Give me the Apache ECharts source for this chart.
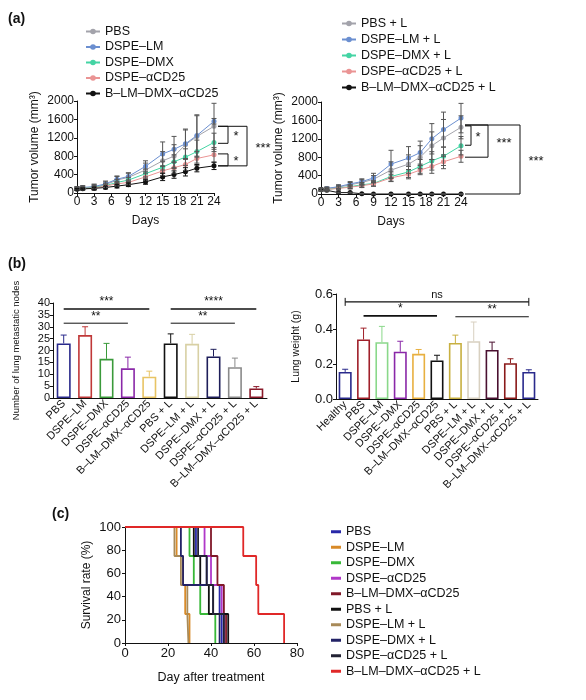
<!DOCTYPE html>
<html><head><meta charset="utf-8">
<script src="https://cdn.jsdelivr.net/npm/echarts@6/dist/echarts.min.js"></script>
<style>html,body{margin:0;padding:0;background:#fff}#c{width:586px;height:700px}</style>
</head><body><div id="c"></div>
<script>
// ---------- DATA ----------
const days = [0,1,3,5,7,9,12,15,17,19,21,24];
const groupsA = ['PBS','DSPE–LM','DSPE–DMX','DSPE–αCD25','B–LM–DMX–αCD25'];
const volA = [
 [100,110,130,180,280,340,500,700,800,1050,1230,1450],
 [100,120,140,200,300,360,580,850,950,1070,1250,1560],
 [90,100,120,160,230,280,420,560,680,780,900,1100],
 [90,100,110,150,200,230,350,480,550,620,750,830],
 [80,90,100,120,150,180,240,350,400,460,540,590]];
const errA = [
 [40,40,60,60,80,90,150,200,250,320,450,500],
 [40,40,50,60,70,80,120,260,280,320,450,60],
 [30,30,40,40,60,60,100,130,150,180,250,200],
 [30,30,40,40,50,50,80,100,120,130,150,160],
 [20,20,30,30,40,40,50,80,80,90,80,80]];
const groupsAL = ['PBS + L','DSPE–LM + L','DSPE–DMX + L','DSPE–αCD25 + L','B–LM–DMX–αCD25 + L'];
const volAL = [
 [100,120,150,200,250,320,520,650,800,1050,1220,1450],
 [100,120,160,220,270,350,650,780,900,1200,1400,1650],
 [90,100,130,160,200,230,380,480,600,720,820,1050],
 [90,100,120,150,180,220,350,430,520,600,700,820],
 [100,80,30,30,5,0,0,0,0,0,0,0]];
const errAL = [
 [30,30,40,50,60,80,180,200,250,300,400,250],
 [30,30,40,50,60,100,300,250,250,330,380,320],
 [30,30,40,40,50,60,100,120,150,200,200,200],
 [30,30,30,40,40,50,80,100,100,150,150,130],
 [20,20,10,10,5,0,0,0,0,0,0,0]];
const colorsA = ['#a3a3ab','#6b8fd0','#44d4a4','#ea9494','#111111'];

const catB1 = ['PBS','DSPE–LM','DSPE–DMX','DSPE–αCD25','B–LM–DMX–αCD25','PBS + L','DSPE–LM + L','DSPE–DMX + L','DSPE–αCD25 + L','B–LM–DMX–αCD25 + L'];
const nodes = [23,26.5,16.5,12.5,9,23,22.8,17.5,13,4];
const nodesErr = [3.5,3.5,6.5,4.7,2.3,4,4,3,3.8,0.8];
const colB1 = ['#2a2a8c','#c03838','#3a9a3a','#8a28a8','#e8c464','#111111','#d8d0a4','#1e1e5a','#8a8a8a','#8a1a2a'];

const catB2 = ['Healthy','PBS','DSPE–LM','DSPE–DMX','DSPE–αCD25','B–LM–DMX–αCD25','PBS + L','DSPE–LM + L','DSPE–DMX + L','DSPE–αCD25 + L','B–LM–DMX–αCD25 + L'];
const lungW = [0.155,0.34,0.325,0.27,0.258,0.22,0.32,0.33,0.28,0.205,0.155];
const lungErr = [0.015,0.065,0.09,0.06,0.025,0.03,0.045,0.11,0.045,0.025,0.012];
const colB2 = ['#2a2a8c','#a0202a','#8ad88a','#8a28a8','#e8b040','#111111','#c8b040','#d8d0c0','#4a1030','#8a1a1a','#2a2a8c'];

const groupsC = ['PBS','DSPE–LM','DSPE–DMX','DSPE–αCD25','B–LM–DMX–αCD25','PBS + L','DSPE–LM + L','DSPE–DMX + L','DSPE–αCD25 + L','B–LM–DMX–αCD25 + L'];
const colC = ['#2828a8','#d88a28','#38b838','#b038c8','#801828','#111111','#a88a58','#222266','#222233','#e02828'];
const survC = [
 [[0,100],[33,75],[38,50],[44,25],[45,0]],
 [[0,100],[24,75],[27,50],[28,25],[30,0]],
 [[0,100],[30,75],[32,50],[35,25],[42,0]],
 [[0,100],[37,75],[40,50],[45,25],[46,0]],
 [[0,100],[40,75],[43,50],[46,25],[47,0]],
 [[0,100],[32,75],[35,50],[39,25],[48,0]],
 [[0,100],[23,75],[26,50],[29,25],[29.5,0]],
 [[0,100],[26,75],[27,50],[41,25],[44,0]],
 [[0,100],[34,75],[38,50],[41,25],[46,0]],
 [[0,100],[55,75],[61,50],[62,25],[74,0]]];

// ---------- CHART ----------
const F = 'Liberation Sans, Arial, sans-serif';
const tick = {color:'#111',fontSize:12,fontFamily:F};
const axL = {lineStyle:{color:'#111',width:1}};
const axT = {show:true,length:3,lineStyle:{color:'#111'}};
const plain = v=>String(v);
function errSeries(xIdx,yIdx,data,color,both,cap){
  return {type:'custom',xAxisIndex:xIdx,yAxisIndex:yIdx,silent:true,z:5,
    renderItem:function(p,api){
      const x=api.value(0),y=api.value(1),e=api.value(2);
      const top=api.coord([x,y+e]),bot=api.coord([x,both?y-e:y]);
      const ch=[{type:'line',shape:{x1:top[0],y1:top[1],x2:bot[0],y2:bot[1]},style:{stroke:color,lineWidth:1}},
        {type:'line',shape:{x1:top[0]-cap,y1:top[1],x2:top[0]+cap,y2:top[1]},style:{stroke:color,lineWidth:1}}];
      if(both) ch.push({type:'line',shape:{x1:bot[0]-cap,y1:bot[1],x2:bot[0]+cap,y2:bot[1]},style:{stroke:color,lineWidth:1}});
      return {type:'group',children:ch};
    },data:data};
}
const series=[], legends=[];
groupsA.forEach((g,i)=>{
  series.push({name:g,type:'line',xAxisIndex:0,yAxisIndex:0,data:days.map((d,j)=>[d,volA[i][j]]),
    symbol:'circle',symbolSize:5,color:colorsA[i],lineStyle:{width:1},z:4});
  series.push(errSeries(0,0,days.map((d,j)=>[d,volA[i][j],errA[i][j]]),colorsA[i]==='#111111'?'#111':'#555',true,2.5));
});
groupsAL.forEach((g,i)=>{
  series.push({name:g,type:'line',xAxisIndex:1,yAxisIndex:1,data:days.map((d,j)=>[d,volAL[i][j]]),
    symbol:'circle',symbolSize:5,color:colorsA[i],lineStyle:{width:1},z:4});
  series.push(errSeries(1,1,days.map((d,j)=>[d,volAL[i][j],errAL[i][j]]),'#555',true,2.5));
});
series.push({type:'bar',xAxisIndex:2,yAxisIndex:2,barWidth:14,z:3,
  data:nodes.map((v,i)=>({value:v,itemStyle:{color:'#fff',borderColor:colB1[i],borderWidth:1.6}}))});
nodes.forEach((v,i)=>series.push(errSeries(2,2,[[i,v,nodesErr[i]]],colB1[i],false,3)));
series.push({type:'bar',xAxisIndex:3,yAxisIndex:3,barWidth:13,z:3,
  data:lungW.map((v,i)=>({value:v,itemStyle:{color:'#fff',borderColor:colB2[i],borderWidth:1.6}}))});
lungW.forEach((v,i)=>series.push(errSeries(3,3,[[i,v,lungErr[i]]],colB2[i],false,3)));
groupsC.forEach((g,i)=>series.push({name:'c'+i,type:'line',step:'end',xAxisIndex:4,yAxisIndex:4,data:survC[i],
  symbol:'none',color:colC[i],lineStyle:{width:1.8},z:3+(i===9?2:0)}));

const legText={fontSize:12.5,fontFamily:F,color:'#111'};
legends.push({orient:'vertical',left:80,top:20,itemWidth:14,itemHeight:7,itemGap:2.5,textStyle:legText,data:groupsA,selectedMode:false});
legends.push({orient:'vertical',left:336,top:12,itemWidth:14,itemHeight:7,itemGap:3,textStyle:legText,data:groupsAL,selectedMode:false});
legends.push({orient:'vertical',left:326,top:520,itemWidth:10,itemHeight:3,itemGap:2,icon:'rect',
  textStyle:Object.assign({},legText,{lineHeight:13.5}),data:groupsC.map((g,i)=>'c'+i),
  formatter:n=>groupsC[+n.slice(1)],selectedMode:false});

const catLabel={rotate:45,fontSize:11,fontFamily:F,color:'#111',interval:0,margin:4};
const option={animation:false,
 grid:[{left:77,top:101,width:137,height:92},{left:321,top:102,width:140,height:92},
   {left:53,top:303,width:214,height:95},{left:336,top:294,width:202,height:105},
   {left:125,top:527,width:172,height:116}],
 legend:legends,
 xAxis:[
  {gridIndex:0,type:'value',min:0,max:24,interval:3,axisLine:axL,axisTick:axT,splitLine:{show:false},axisLabel:Object.assign({margin:3},tick),name:'Days',nameLocation:'middle',nameGap:22,nameTextStyle:tick},
  {gridIndex:1,type:'value',min:0,max:24,interval:3,axisLine:axL,axisTick:axT,splitLine:{show:false},axisLabel:Object.assign({margin:3},tick),name:'Days',nameLocation:'middle',nameGap:22,nameTextStyle:tick},
  {gridIndex:2,type:'category',data:catB1,axisLine:axL,axisTick:{show:false},axisLabel:catLabel},
  {gridIndex:3,type:'category',data:catB2,axisLine:axL,axisTick:{show:false},axisLabel:catLabel},
  {gridIndex:4,type:'value',min:0,max:80,interval:20,axisLine:axL,axisTick:axT,splitLine:{show:false},axisLabel:Object.assign({margin:4},tick,{fontSize:13}),name:'Day after treatment',nameLocation:'middle',nameGap:28,nameTextStyle:Object.assign({},tick,{fontSize:12.5})}],
 yAxis:[
  {gridIndex:0,type:'value',min:0,max:2000,interval:400,axisLine:Object.assign({show:true},axL),axisTick:axT,splitLine:{show:false},axisLabel:Object.assign({margin:3,formatter:plain},tick),name:'Tumor volume (mm³)',nameLocation:'middle',nameGap:36,nameTextStyle:tick},
  {gridIndex:1,type:'value',min:0,max:2000,interval:400,axisLine:Object.assign({show:true},axL),axisTick:axT,splitLine:{show:false},axisLabel:Object.assign({margin:3,formatter:plain},tick),name:'Tumor volume (mm³)',nameLocation:'middle',nameGap:36,nameTextStyle:tick},
  {gridIndex:2,type:'value',min:0,max:40,interval:5,axisLine:Object.assign({show:true},axL),axisTick:axT,splitLine:{show:false},axisLabel:Object.assign({margin:3},tick,{fontSize:11}),name:'Number of lung metastatic nodes',nameLocation:'middle',nameGap:32,nameTextStyle:Object.assign({},tick,{fontSize:9.5})}],
 series:series};
option.yAxis.push(
  {gridIndex:3,type:'value',min:0,max:0.6,interval:0.2,axisLine:Object.assign({show:true},axL),axisTick:axT,splitLine:{show:false},axisLabel:Object.assign({margin:3,formatter:v=>v.toFixed(1)},tick,{fontSize:13}),name:'Lung weight (g)',nameLocation:'middle',nameGap:34,nameTextStyle:Object.assign({},tick,{fontSize:10.5})},
  {gridIndex:4,type:'value',min:0,max:100,interval:20,axisLine:Object.assign({show:true},axL),axisTick:axT,splitLine:{show:false},axisLabel:Object.assign({margin:4},tick,{fontSize:13}),name:'Survival rate (%)',nameLocation:'middle',nameGap:32,nameTextStyle:Object.assign({},tick,{fontSize:12})});
const chart=echarts.init(document.getElementById('c'),null,{renderer:'canvas'});
chart.setOption(option);

// ---------- annotations ----------
const px=(g,x,y)=>chart.convertToPixel({gridIndex:g},[x,y]);
const G=[];
const ln=(x1,y1,x2,y2,w)=>G.push({type:'line',shape:{x1,y1,x2,y2},style:{stroke:'#111',lineWidth:w||1}});
const tx=(x,y,t,s,bold,align)=>G.push({type:'text',x,y,style:{text:t,fontSize:s||12,fontFamily:F,fill:'#111',fontWeight:bold?'bold':'normal',align:align||'center',verticalAlign:'middle'}});
function bracket(g,x0,off,yTop,yBot,label,toff){
  const a=px(g,x0,yTop),b=px(g,x0,yBot),X=a[0]+off;
  ln(a[0]+4,a[1],X,a[1]);ln(b[0]+4,b[1],X,b[1]);ln(X,a[1],X,b[1]);
  tx(X+toff,(a[1]+b[1])/2+2,label,13);
}
tx(8,19,'(a)',14,true,'left');tx(8,264,'(b)',14,true,'left');tx(52,514,'(c)',14,true,'left');
bracket(0,24,14,1450,1080,'*',8);
bracket(0,24,14,850,590,'*',8);
bracket(0,24,33,1450,590,'***',16);
bracket(1,24,10,1480,1060,'*',7);
bracket(1,24,27,1500,800,'***',16);
bracket(1,24,59,1500,0,'***',16);
function hbar(g,i0,i1,y,label,w,caps){
  const a=px(g,i0,y),b=px(g,i1,y);ln(a[0],a[1],b[0],b[1],w);
  if(caps){ln(a[0],a[1]-4,a[0],a[1]+4);ln(b[0],b[1]-4,b[0],b[1]+4);}
  tx((a[0]+b[0])/2,a[1]-7,label,label==='ns'?11:12,false);
}
hbar(2,0,4,37.5,'***',1.6);hbar(2,0,3,31.5,'**',1);
hbar(2,5,9,37.5,'****',1.6);hbar(2,5,8,31.5,'**',1);
hbar(3,0,10,0.555,'ns',1.2,true);hbar(3,1,5,0.475,'*',1.6);hbar(3,6,10,0.47,'**',1);
chart.setOption({graphic:G});
</script></body></html>
